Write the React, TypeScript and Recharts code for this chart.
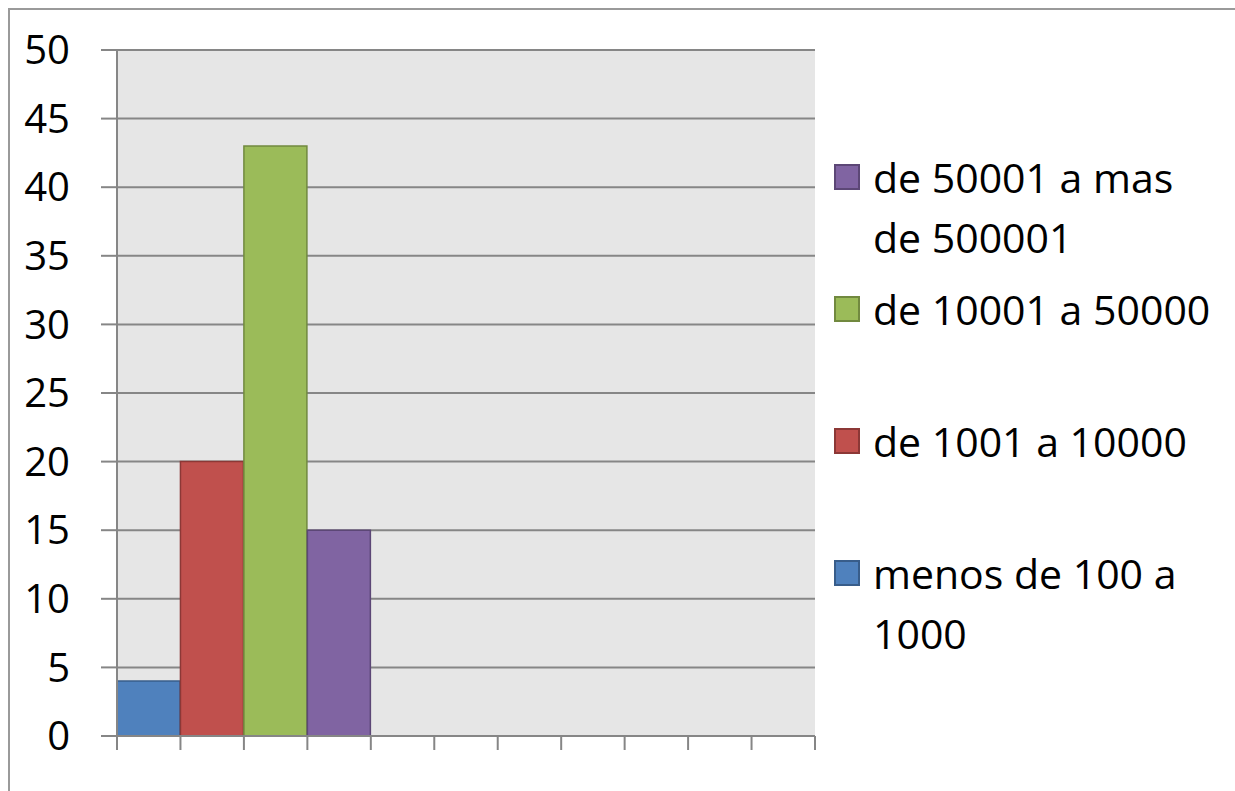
import React from 'react';
import { BarChart, Bar, XAxis, YAxis, CartesianGrid, Legend } from 'recharts';

const font = '"Open Sans", "Noto Sans", sans-serif';

// 11 empty category slots along the x axis
const slots = ['s1', 's2', 's3', 's4', 's5', 's6', 's7', 's8', 's9', 's10', 's11'];
const menosDe100 = [4, null, null, null, null, null, null, null, null, null, null];
const de1001 = [null, 20, null, null, null, null, null, null, null, null, null];
const de10001 = [null, null, 43, null, null, null, null, null, null, null, null];
const de50001 = [null, null, null, 15, null, null, null, null, null, null, null];

const yTicks = [0, 5, 10, 15, 20, 25, 30, 35, 40, 45, 50];
const edgeTicks = [0, 1, 2, 3, 4, 5, 6, 7, 8, 9, 10, 11];

const series = [
  { key: 'menos', name: 'menos de 100 a 1000', values: menosDe100, fill: '#4F81BD', stroke: '#385D8A' },
  { key: 'd1001', name: 'de 1001 a 10000', values: de1001, fill: '#C0504D', stroke: '#8C3836' },
  { key: 'd10001', name: 'de 10001 a 50000', values: de10001, fill: '#9BBB59', stroke: '#71893F' },
  { key: 'd50001', name: 'de 50001 a mas de 500001', values: de50001, fill: '#8064A2', stroke: '#5C4776' },
];

const data = slots.map((slot, i) => {
  const row: any = { slot, edge: i + 0.5 };
  series.forEach(s => { row[s.key] = s.values[i]; });
  return row;
});

const LegendBox = () => (
  <div style={{ fontFamily: font, fontSize: 41, color: '#000', position: 'relative', height: 0 }}>
    {[...series].reverse().map((s, i) => (
      <div key={s.key} style={{ position: 'absolute', top: i * 132, left: 0, display: 'flex', alignItems: 'flex-start' }}>
        <div style={{ width: 26, height: 26, boxSizing: 'border-box', background: s.fill, border: `2px solid ${s.stroke}`, marginTop: 17 }} />
        <div style={{ marginLeft: 13, width: 345, lineHeight: '60px' }}>{s.name}</div>
      </div>
    ))}
  </div>
);

export default function App() {
  return (
    <div style={{ position: 'fixed', top: 8, left: 8, width: 1227, height: 783, boxSizing: 'border-box', borderTop: '2px solid #9a9a9a', borderLeft: '2px solid #9a9a9a', background: '#fff' }}>
      <BarChart width={1225} height={781} data={data} barCategoryGap={0} margin={{ top: 40, right: 420, bottom: 25, left: 0 }}>
        <CartesianGrid vertical={false} stroke="#868686" strokeWidth={2} fill="#E6E6E6" />
        <XAxis xAxisId="cat" dataKey="slot" hide height={0} />
        <XAxis
          xAxisId="edges"
          type="number"
          dataKey="edge"
          domain={[0, 11]}
          ticks={edgeTicks}
          tickSize={14}
          height={30}
          tickFormatter={() => ''}
          axisLine={{ stroke: '#868686', strokeWidth: 2 }}
          tickLine={{ stroke: '#868686', strokeWidth: 2 }}
        />
        <YAxis
          width={107}
          domain={[0, 50]}
          ticks={yTicks}
          interval={0}
          tickSize={16}
          tickMargin={31}
          axisLine={{ stroke: '#868686', strokeWidth: 2 }}
          tickLine={{ stroke: '#868686', strokeWidth: 2 }}
          tick={{ fill: '#000', fontSize: 40, fontFamily: font }}
        />
        {series.map(s => (
          <Bar key={s.key} xAxisId="cat" dataKey={s.key} name={s.name} stackId="a" fill={s.fill} stroke={s.stroke} strokeWidth={1.5} isAnimationActive={false} />
        ))}
        <Legend content={<LegendBox />} wrapperStyle={{ position: 'absolute', left: 824, top: 137, width: 400, height: 0, overflow: 'visible' }} />
      </BarChart>
    </div>
  );
}
